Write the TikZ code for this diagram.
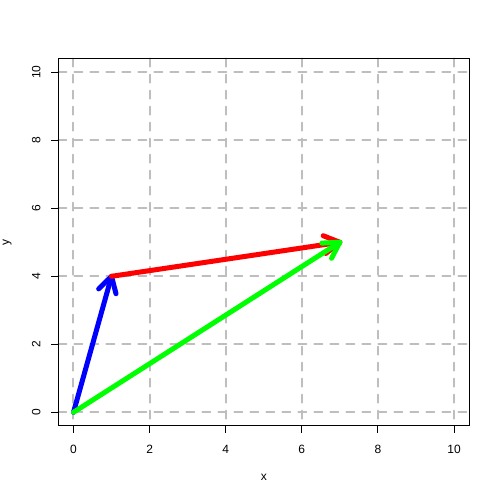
\documentclass[tikz,border=0pt]{standalone}
\usepackage{fontspec}
\setmainfont{Liberation Sans}
\usetikzlibrary{calc}
\begin{document}
\begin{tikzpicture}[x=38.05pt,y=34pt,
  gridline/.style={draw={rgb,255:red,190;green,190;blue,190},line width=2pt,dash pattern=on 8pt off 8pt,line cap=round},
  vec/.style={line width=5pt,line cap=round,line join=round},
  lab/.style={font=\fontsize{12pt}{14pt}\selectfont,inner sep=0pt},
  tick/.style={line width=1pt}]
\useasboundingbox (-73.5pt,-87.7pt) rectangle (426.5pt,412.3pt);
% grid
\foreach \i in {0,2,...,10}{
  \draw[gridline] (\i,10.4) -- (\i,-0.4);
  \draw[gridline] (-0.4,\i) -- (10.4,\i);
}
% box
\draw[line width=1pt] (-0.4,-0.4) rectangle (10.4,10.4);
% ticks and labels
\foreach \i in {0,2,...,10}{
  \draw[tick] (\i,-0.4) -- ++(0,-7pt);
  \node[lab] (xl\i) at ($(\i,-0.4)+(0,-23pt)$) {\i};
  \draw[tick] (-0.4,\i) -- ++(-7pt,0);
  \node[lab,rotate=90] (yl\i) at ($(-0.4,\i)+(-22pt,0)$) {\i};
}
\node[lab] (xt) at ($(5,-0.4)+(0,-51pt)$) {x};
\node[lab,rotate=90] (yt) at ($(-0.4,5)+(-51pt,0)$) {y};
% vectors
\coordinate (O) at (0,0);
\coordinate (A) at (1,4);
\coordinate (B) at (7,5);
\draw[vec,blue] (O) -- (A);
\draw[vec,blue] ($(A)!18pt!30:(O)$) -- (A) -- ($(A)!18pt!-30:(O)$);
\draw[vec,red] (A) -- (B);
\draw[vec,red] ($(B)!18pt!30:(A)$) -- (B) -- ($(B)!18pt!-30:(A)$);
\draw[vec,green] (O) -- (B);
\draw[vec,green] ($(B)!18pt!30:(O)$) -- (B) -- ($(B)!18pt!-30:(O)$);
\end{tikzpicture}
\end{document}
